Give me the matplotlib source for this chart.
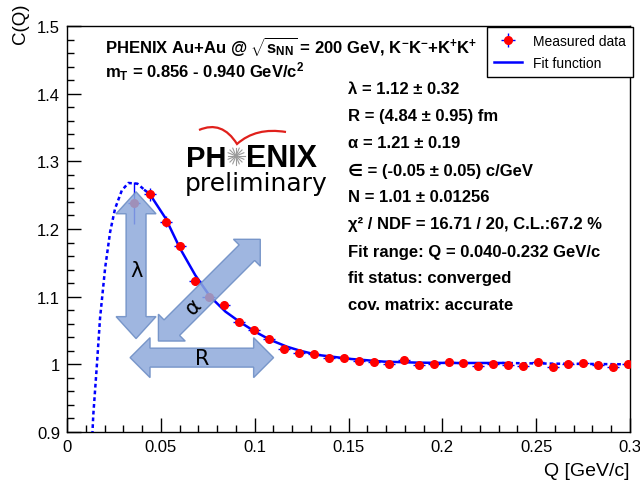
"""PHENIX K-K- / K+K+ Bose-Einstein correlation function with Levy fit."""

import matplotlib

matplotlib.use("Agg")

import matplotlib.pyplot as plt
import numpy as np
from matplotlib.patches import PathPatch, Polygon
from matplotlib.path import Path
from matplotlib.lines import Line2D
from matplotlib.transforms import IdentityTransform

plt.rcParams["font.family"] = ["Liberation Sans", "DejaVu Sans"]
plt.rcParams["mathtext.fontset"] = "custom"
plt.rcParams["mathtext.rm"] = "Liberation Sans:bold"
plt.rcParams["mathtext.it"] = "Liberation Sans:bold"
plt.rcParams["mathtext.bf"] = "Liberation Sans:bold"

# measured correlation function
q_data = [0.0359, 0.0443, 0.0525, 0.0600, 0.0680, 0.0754, 0.0838, 0.0918,
          0.0998, 0.1078, 0.1157, 0.1237, 0.1315, 0.1395, 0.1475, 0.1555,
          0.1635, 0.1715, 0.1795, 0.1875, 0.1955, 0.2033, 0.2112, 0.2192,
          0.2272, 0.2352, 0.2431, 0.2511, 0.2591, 0.2671, 0.2751, 0.2831,
          0.2909, 0.2988]
c_data = [1.239, 1.251, 1.211, 1.175, 1.123, 1.100, 1.087, 1.062,
          1.051, 1.038, 1.023, 1.017, 1.015, 1.010, 1.010, 1.005,
          1.003, 1.000, 1.007, 0.999, 1.001, 1.003, 1.0015, 0.998,
          1.001, 0.9985, 0.9975, 1.003, 0.9966, 1.000, 1.0015, 0.999,
          0.9966, 1.000]
c_err = [0.031, 0.009, 0.0075, 0.006, 0.0055, 0.005, 0.0045, 0.0045,
         0.004, 0.004, 0.0035, 0.0035, 0.0035, 0.003, 0.003, 0.003,
         0.003, 0.003, 0.003, 0.003, 0.003, 0.003, 0.003, 0.003,
         0.003, 0.003, 0.003, 0.003, 0.003, 0.003, 0.003, 0.003,
         0.003, 0.003]
q_err = 0.0032

# fit function as drawn
q_fit = [0.0135, 0.0140, 0.0158, 0.0176, 0.0203, 0.0230, 0.0256, 0.0292,
         0.0327, 0.0375, 0.0416, 0.0440, 0.0525, 0.0603, 0.0683, 0.0763,
         0.0844, 0.0924, 0.1004, 0.1084, 0.1173, 0.1244, 0.1333, 0.1510,
         0.1689, 0.1867, 0.2045, 0.2320, 0.2600, 0.3000]
c_fit = [0.896, 0.925, 0.994, 1.068, 1.142, 1.196, 1.230, 1.257,
         1.268, 1.267, 1.257, 1.252, 1.216, 1.171, 1.132, 1.100,
         1.078, 1.062, 1.048, 1.036, 1.026, 1.020, 1.014, 1.008,
         1.004, 1.0025, 1.002, 1.002, 1.001, 1.000]
fit_range = (0.0416, 0.232)

header_lines = [
    r"PHENIX Au+Au @ $\sqrt{s_{NN}}$ = 200 GeV, K$^{-}$K$^{-}$+K$^{+}$K$^{+}$",
    r"m$_{T}$ = 0.856 - 0.940 GeV/c$^{2}$",
]
fit_lines = [
    "λ = 1.12 ± 0.32",
    "R = (4.84 ± 0.95) fm",
    "α = 1.21 ± 0.19",
    "∈ = (-0.05 ± 0.05) c/GeV",
    "N = 1.01 ± 0.01256",
    "χ² / NDF = 16.71 / 20, C.L.:67.2 %",
    "Fit range: Q = 0.040-0.232 GeV/c",
    "fit status: converged",
    "cov. matrix: accurate",
]

W, H = 640, 485
ARROW_FACE = "#8eaadb"
ARROW_EDGE = "#6a8bc3"


def fx(px):
    return px / W


def fy(py):
    return 1 - py / H


def double_arrow(ax, p0, p1, shaft, head_w, head_len):
    a = ax.transData.transform(p0)
    b = ax.transData.transform(p1)
    d = b - a
    u = d / np.hypot(*d)
    n = np.array([-u[1], u[0]])
    pts = [
        a,
        a + u * head_len + n * head_w / 2,
        a + u * head_len + n * shaft / 2,
        b - u * head_len + n * shaft / 2,
        b - u * head_len + n * head_w / 2,
        b,
        b - u * head_len - n * head_w / 2,
        b - u * head_len - n * shaft / 2,
        a + u * head_len - n * shaft / 2,
        a + u * head_len - n * head_w / 2,
    ]
    patch = Polygon(pts, closed=True, transform=IdentityTransform(),
                    facecolor=ARROW_FACE, edgecolor=ARROW_EDGE, lw=1.0,
                    alpha=0.85, zorder=6)
    ax.add_patch(patch)


fig = plt.figure(figsize=(W / 100, H / 100), dpi=100)
ax = fig.add_axes([fx(67), fy(433), fx(630) - fx(67), fy(27) - fy(433)])
ax.set_xlim(0, 0.3)
ax.set_ylim(0.9, 1.5)

q_fit_arr = np.array(q_fit)
c_fit_arr = np.array(c_fit)
inside = (q_fit_arr >= fit_range[0]) & (q_fit_arr <= fit_range[1])
left = q_fit_arr <= fit_range[0]
right = q_fit_arr >= fit_range[1]
fit_line, = ax.plot(q_fit_arr[inside], c_fit_arr[inside], color="blue",
                    lw=1.8, zorder=3, label="Fit function")
for mask in (left, right):
    ax.plot(q_fit_arr[mask], c_fit_arr[mask], color="blue", lw=1.8,
            ls=(0, (1.5, 1.2)), zorder=3)

data_marks = ax.errorbar(q_data, c_data, yerr=c_err, xerr=q_err, fmt="o",
                         ms=5.5, mfc="red", mec="red", ecolor="blue",
                         elinewidth=1, capsize=0, zorder=4,
                         label="Measured data")

# illustration arrows for lambda, alpha and R
double_arrow(ax, (0.0368, 1.038), (0.0368, 1.255), 20, 40, 22)
double_arrow(ax, (0.0487, 1.0344), (0.1030, 1.1848), 22, 38, 19)
double_arrow(ax, (0.0336, 1.0099), (0.1101, 1.0099), 19, 40, 20)
ax.text(0.0368, 1.139, "λ", fontsize=15, family="DejaVu Sans",
        ha="center", va="center", zorder=7)
ax.text(0.0673, 1.087, "α", fontsize=15, family="DejaVu Sans",
        rotation=45, ha="center", va="center", zorder=7)
ax.text(0.0720, 1.009, "R", fontsize=15, family="DejaVu Sans",
        ha="center", va="center", zorder=7)

ax.set_xticks(np.arange(0, 0.301, 0.05))
ax.set_xticklabels(["0", "0.05", "0.1", "0.15", "0.2", "0.25", "0.3"])
ax.set_xticks(np.arange(0, 0.301, 0.01), minor=True)
ax.set_yticks(np.arange(0.9, 1.501, 0.1))
ax.set_yticklabels(["0.9", "1", "1.1", "1.2", "1.3", "1.4", "1.5"])
ax.set_yticks(np.arange(0.9, 1.501, 0.02), minor=True)
ax.tick_params(which="both", direction="in", top=False, right=False,
               labelsize=12, width=1)
ax.tick_params(which="major", length=10, pad=5)
ax.tick_params(which="minor", length=5)
for spine in ax.spines.values():
    spine.set_linewidth(1.0)

ax.set_xlabel("Q [GeV/c]", loc="right", fontsize=14, labelpad=6)
fig.text(fx(20), fy(4), "C(Q)", rotation=90, fontsize=13.5,
         ha="center", va="top")

ax.legend([data_marks, fit_line], ["Measured data", "Fit function"],
          loc="upper right", bbox_to_anchor=(fx(633), fy(28)),
          bbox_transform=fig.transFigure, borderaxespad=0, fancybox=False,
          edgecolor="black", framealpha=1, fontsize=10, handlelength=2.0,
          borderpad=0.5, labelspacing=0.6)

for i, line in enumerate(header_lines):
    fig.text(fx(105), fy(47 + 25 * i), line, fontsize=12, fontweight="bold",
             ha="left", va="center")
for i, line in enumerate(fit_lines):
    fig.text(fx(348), fy(90 + 27 * i), line, fontsize=12,
             fontweight="bold", ha="left", va="center")

# PHENIX preliminary logo
fig.text(fx(186), fy(167), "PH", fontsize=21, fontweight="bold",
         ha="left", va="baseline")
fig.text(fx(246), fy(167), "ENIX", fontsize=22, fontweight="bold",
         ha="left", va="baseline")
for angle in np.arange(0, np.pi, np.pi / 8):
    dx, dy = 8.5 * np.cos(angle), 8.5 * np.sin(angle)
    fig.add_artist(Line2D([fx(236 - dx), fx(236 + dx)],
                          [fy(157 - dy), fy(157 + dy)],
                          color="#9a9a9a", lw=0.8))
gull = Path(
    [(fx(199), fy(131)), (fx(222), fy(121)), (fx(237), fy(145)),
     (fx(256), fy(128)), (fx(286), fy(133))],
    [Path.MOVETO, Path.CURVE3, Path.CURVE3, Path.CURVE3, Path.CURVE3],
)
fig.add_artist(PathPatch(gull, transform=fig.transFigure, fill=False,
                         edgecolor="#e0201b", lw=1.6))
fig.text(fx(256), fy(191), "preliminary", fontsize=18,
         family="DejaVu Sans", ha="center", va="baseline")

fig.savefig("out.png", dpi=100)
